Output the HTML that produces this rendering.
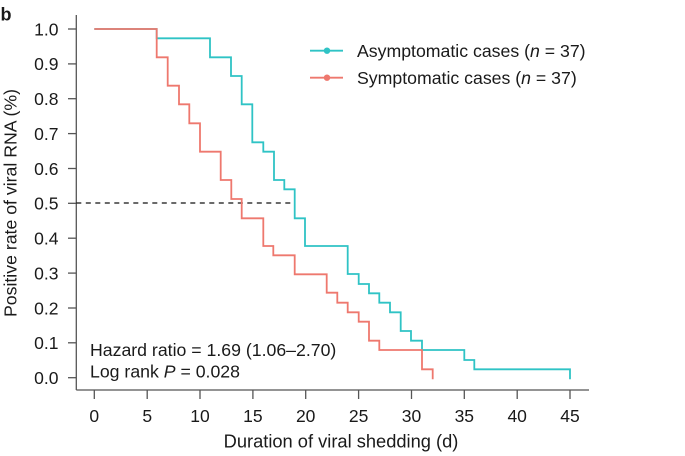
<!DOCTYPE html>
<html>
<head>
<meta charset="utf-8">
<style>
html,body{margin:0;padding:0;background:#fff;}
svg{display:block;}
text{font-family:"Liberation Sans",Arial,sans-serif;fill:#1a1a1a;}
</style>
</head>
<body>
<svg width="685" height="456" viewBox="0 0 685 456" xmlns="http://www.w3.org/2000/svg">
  <!-- panel label -->
  <text x="0.5" y="20.5" font-size="18" font-weight="bold">b</text>

  <!-- axes -->
  <g stroke="#555" stroke-width="1.3" fill="none">
    <line x1="76.3" y1="15" x2="76.3" y2="390"/>
    <line x1="76.3" y1="390" x2="589" y2="390"/>
    <!-- y ticks -->
    <line x1="68" y1="377.7" x2="76.3" y2="377.7"/>
    <line x1="68" y1="342.8" x2="76.3" y2="342.8"/>
    <line x1="68" y1="308" x2="76.3" y2="308"/>
    <line x1="68" y1="273.1" x2="76.3" y2="273.1"/>
    <line x1="68" y1="238.2" x2="76.3" y2="238.2"/>
    <line x1="68" y1="203.3" x2="76.3" y2="203.3"/>
    <line x1="68" y1="168.5" x2="76.3" y2="168.5"/>
    <line x1="68" y1="133.6" x2="76.3" y2="133.6"/>
    <line x1="68" y1="98.7" x2="76.3" y2="98.7"/>
    <line x1="68" y1="63.9" x2="76.3" y2="63.9"/>
    <line x1="68" y1="29" x2="76.3" y2="29"/>
    <!-- x ticks -->
    <line x1="94.3" y1="390" x2="94.3" y2="399"/>
    <line x1="147.2" y1="390" x2="147.2" y2="399"/>
    <line x1="200" y1="390" x2="200" y2="399"/>
    <line x1="252.9" y1="390" x2="252.9" y2="399"/>
    <line x1="305.7" y1="390" x2="305.7" y2="399"/>
    <line x1="358.6" y1="390" x2="358.6" y2="399"/>
    <line x1="411.5" y1="390" x2="411.5" y2="399"/>
    <line x1="464.3" y1="390" x2="464.3" y2="399"/>
    <line x1="517.2" y1="390" x2="517.2" y2="399"/>
    <line x1="570" y1="390" x2="570" y2="399"/>
  </g>

  <!-- y tick labels -->
  <g font-size="17.5" text-anchor="end">
    <text x="58.5" y="384">0.0</text>
    <text x="58.5" y="349.1">0.1</text>
    <text x="58.5" y="314.3">0.2</text>
    <text x="58.5" y="279.4">0.3</text>
    <text x="58.5" y="244.5">0.4</text>
    <text x="58.5" y="209.6">0.5</text>
    <text x="58.5" y="174.8">0.6</text>
    <text x="58.5" y="139.9">0.7</text>
    <text x="58.5" y="105">0.8</text>
    <text x="58.5" y="70.2">0.9</text>
    <text x="58.5" y="35.3">1.0</text>
  </g>

  <!-- x tick labels -->
  <g font-size="17.5" text-anchor="middle">
    <text x="94.3" y="422">0</text>
    <text x="147.2" y="422">5</text>
    <text x="200" y="422">10</text>
    <text x="252.9" y="422">15</text>
    <text x="305.7" y="422">20</text>
    <text x="358.6" y="422">25</text>
    <text x="411.5" y="422">30</text>
    <text x="464.3" y="422">35</text>
    <text x="517.2" y="422">40</text>
    <text x="570" y="422">45</text>
  </g>

  <!-- axis titles -->
  <text x="341" y="447.5" font-size="18.3" text-anchor="middle">Duration of viral shedding (d)</text>
  <text transform="translate(16.5,203) rotate(-90)" font-size="17.7" text-anchor="middle">Positive rate of viral RNA (%)</text>

  <!-- dashed median line -->
  <line x1="76.3" y1="203" x2="294.7" y2="203" stroke="#111" stroke-width="1.3" stroke-dasharray="5 4.5"/>

  <!-- asymptomatic (teal) -->
  <path d="M94.3,29 H156.7 V38.3 H210 V57.3 H231 V76 H241.7 V104.3 H252.3 V142.3 H263.3 V151.7 H274 V180 H284.3 V189.3 H294.7 V218.3 H305 V246 H347.7 V274 H358.7 V284 H369 V293.3 H379.3 V302.7 H390 V312.3 H400.7 V331 H411 V340.7 H422 V350 H464.3 V360 H474.3 V369.3 H570 V379.3"
        fill="none" stroke="#2fc3c5" stroke-width="1.8"/>

  <!-- symptomatic (salmon) -->
  <path d="M94.3,29 H156.7 V57.3 H167.7 V85.7 H179 V104.3 H189.3 V123.3 H200 V151.7 H220.7 V180 H231.3 V199 H241.7 V218.3 H263.3 V246 H273.3 V255.3 H294.7 V274.3 H326.7 V292.7 H337.3 V302.7 H347.7 V312.3 H358.7 V321.7 H369 V340.7 H379.3 V350 H422 V369.3 H432.7 V379.3"
        fill="none" stroke="#ee786e" stroke-width="1.8"/>

  <!-- legend -->
  <line x1="310" y1="50.7" x2="343" y2="50.7" stroke="#2fc3c5" stroke-width="1.8"/>
  <circle cx="327" cy="50.7" r="3.2" fill="#2fc3c5"/>
  <text x="357" y="57" font-size="17.7">Asymptomatic cases (<tspan font-style="italic">n</tspan> = 37)</text>
  <line x1="310" y1="77.7" x2="343" y2="77.7" stroke="#ee786e" stroke-width="1.8"/>
  <circle cx="327" cy="77.7" r="3.2" fill="#ee786e"/>
  <text x="357" y="84" font-size="17.7">Symptomatic cases (<tspan font-style="italic">n</tspan> = 37)</text>

  <!-- stats -->
  <text x="90" y="356" font-size="17.7">Hazard ratio = 1.69 (1.06–2.70)</text>
  <text x="90" y="377.5" font-size="17.7">Log rank <tspan font-style="italic">P</tspan> = 0.028</text>
</svg>
</body>
</html>
